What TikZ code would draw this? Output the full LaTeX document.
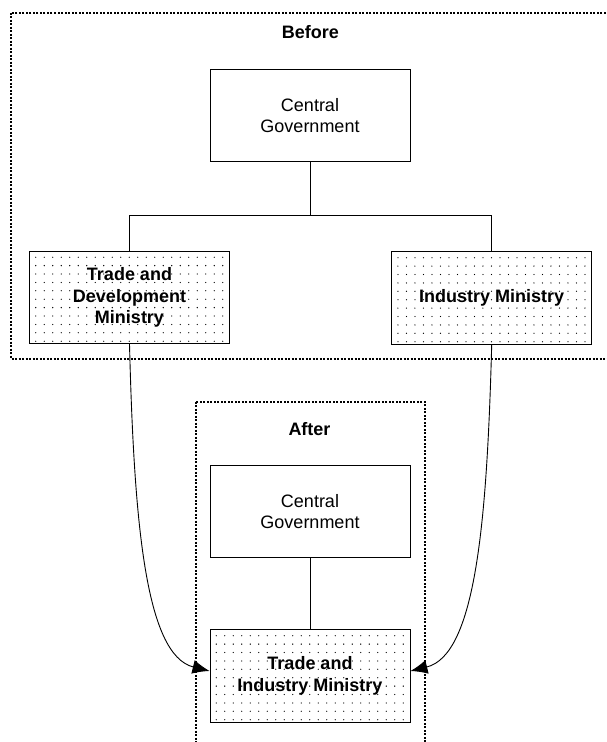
\documentclass[tikz,border=0pt]{standalone}
\usepackage{fontspec}
\setmainfont{Liberation Sans}
\usetikzlibrary{arrows.meta, positioning, calc}

% sparse dot grid inside a ministry box
\newcommand{\dotgrid}[1]{%
  \foreach \col in {0,...,22}
    \foreach \row in {0,...,10}
      \fill ($(#1.north west)+(6.7+8.5*\col,6.4+8.4*\row)$) circle (0.65pt);}

\begin{document}
\begin{tikzpicture}[x=1pt, y=-1pt,
  unit/.style={draw, line width=0.9pt, minimum width=200pt, minimum height=92.5pt,
    align=center, inner sep=0pt, font=\fontsize{18pt}{21.5pt}\selectfont},
  ministry/.style={unit, font=\fontsize{18pt}{21.5pt}\selectfont\bfseries},
  frame/.style={line width=2pt, dash pattern=on 2pt off 1.5pt},
  title/.style={font=\fontsize{18pt}{21.5pt}\selectfont\bfseries},
  link/.style={line width=0.9pt},
  merge/.style={line width=0.9pt, -{Latex[length=17pt, width=14pt]}}
]
\useasboundingbox (0,0) rectangle (607,742);

% Before panel
\draw[frame] (11,12.5) rectangle (615,358.5);
\node[title] (before) at (310.5,32.5) {Before};
\node[unit] (cg1) at (310,115.5) {Central\\Government};
\node[ministry] (tdm) at (129.5,297.5) {Trade and\\Development\\Ministry};
\node[ministry] (ind) at (491.7,298) {Industry Ministry};
\dotgrid{tdm}
\dotgrid{ind}

\draw[link] (cg1.south) -- ++(0,53.5) coordinate (fork);
\draw[link] (fork) -| (tdm.north);
\draw[link] (fork) -| (ind.north);

% After panel
\draw[frame] (195.5,401.5) rectangle (424.5,760);
\node[title] (after) at (309.5,429) {After};
\node[unit] (cg2) at (310,511.5) {Central\\Government};
\node[ministry] (tim) at (310,676) {Trade and\\Industry Ministry};
\dotgrid{tim}
\draw[link] (cg2.south) -- (tim.north);

% Merging arrows
\draw[merge] (tdm.south) .. controls (134,520) and (145,655) .. ([yshift=5pt]tim.west);
\draw[merge] (ind.south) .. controls (487,520) and (476,655) .. ([yshift=5pt]tim.east);

\end{tikzpicture}
\end{document}
